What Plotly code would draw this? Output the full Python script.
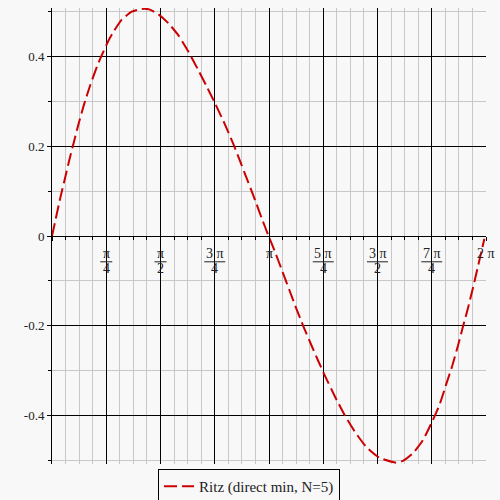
import math
import plotly.graph_objects as go

# ---- data ----
t_vals = [0.0, 0.048, 0.12, 0.19, 0.25, 0.318, 0.385, 0.46, 0.553, 0.65, 0.712, 0.817, 0.89,
          1.01, 1.155, 1.30, 1.406, 1.54, 1.685, 1.83, 1.974, 2.12, 2.24, 2.35, 2.50, 2.62,
          2.745, 2.84, 2.94, 3.035, 3.13, 3.20, 3.35, 3.44, 3.54, 3.636, 3.757, 3.853, 3.95,
          4.094, 4.24, 4.38, 4.55, 4.74, 4.985, 5.08, 5.225, 5.37, 5.514, 5.61, 5.71, 5.795,
          5.876, 5.948, 6.02, 6.094, 6.165, 6.237, 6.26]
u_vals = [0.0, 0.034, 0.085, 0.130, 0.169, 0.210, 0.250, 0.291, 0.336, 0.377, 0.400, 0.435, 0.455,
          0.482, 0.500, 0.506, 0.505, 0.494, 0.474, 0.447, 0.411, 0.369, 0.333, 0.299, 0.250, 0.207,
          0.158, 0.120, 0.080, 0.040, 0.002, -0.024, -0.085, -0.122, -0.163, -0.200, -0.244, -0.278, -0.311,
          -0.357, -0.400, -0.435, -0.470, -0.494, -0.505, -0.501, -0.484, -0.455, -0.410, -0.376, -0.329, -0.289,
          -0.245, -0.203, -0.162, -0.116, -0.069, -0.021, -0.006]

series_name = "Ritz (direct min, N=5)"

# x tick labels (numerator, denominator) at multiples of pi/4
x_tick_quarters = [1, 2, 3, 4, 5, 6, 7, 8]
x_tick_num = ["π", "π", "3 π", "π", "5 π", "3 π", "7 π", "2 π"]
x_tick_den = ["4", "2", "4", "", "4", "2", "4", ""]

y_tick_vals = [-0.4, -0.2, 0.0, 0.2, 0.4]
y_tick_text = ["-0.4", "-0.2", "0", "0.2", "0.4"]

BG = "#f8f8f8"
FONT = "Liberation Serif"
TXT = "#222222"

fig = go.Figure()
fig.add_trace(go.Scatter(
    x=t_vals, y=u_vals, mode="lines", name=series_name,
    line=dict(color="#cc0000", width=2, dash="13px,5px", shape="spline", smoothing=0.5),
    showlegend=True,
))

YR = [-0.508, 0.508]

# fraction tick labels
for q, num, den in zip(x_tick_quarters, x_tick_num, x_tick_den):
    xv = q * math.pi / 4
    fig.add_annotation(x=xv, y=-0.039, xref="x", yref="y", text=num, showarrow=False,
                       font=dict(family=FONT, size=14, color=TXT), xanchor="center", yanchor="middle")
    if den:
        fig.add_annotation(x=xv, y=-0.0735, xref="x", yref="y", text=den, showarrow=False,
                           font=dict(family=FONT, size=14, color=TXT), xanchor="center", yanchor="middle")
        hw = 0.087 if len(num) == 1 else 0.152
        fig.add_shape(type="line", x0=xv - hw, x1=xv + hw, y0=-0.0575, y1=-0.0575,
                      xref="x", yref="y", line=dict(color=TXT, width=1))

fig.update_layout(
    width=500, height=500,
    margin=dict(l=52, r=14, t=8, b=36, autoexpand=False),
    paper_bgcolor=BG, plot_bgcolor=BG,
    font=dict(family=FONT, size=13, color=TXT),
    showlegend=True,
    legend=dict(x=0.454, y=-0.011, xanchor="center", yanchor="top",
                bgcolor=BG, bordercolor="black", borderwidth=1,
                font=dict(family=FONT, size=15, color=TXT)),
    xaxis=dict(
        range=[0, 2 * math.pi], anchor="free", position=0.5, automargin=False,
        tickmode="linear", tick0=0, dtick=math.pi / 4,
        showticklabels=False, ticks="outside", ticklen=4, tickcolor="black",
        showgrid=True, gridcolor="black", gridwidth=1,
        showline=True, linecolor="black", linewidth=1, zeroline=False,
        minor=dict(tick0=0, dtick=math.pi / 16, showgrid=True, gridcolor="#c8c8c8",
                   gridwidth=1, ticks="outside", ticklen=3, tickcolor="black"),
    ),
    yaxis=dict(
        range=YR, anchor="x", automargin=False,
        tickmode="array", tickvals=y_tick_vals, ticktext=y_tick_text,
        ticks="outside", ticklen=4, tickcolor="black",
        showgrid=True, gridcolor="black", gridwidth=1,
        showline=True, linecolor="black", linewidth=1, zeroline=False,
        minor=dict(tick0=0, dtick=0.1, showgrid=True, gridcolor="#c8c8c8",
                   gridwidth=1, ticks="outside", ticklen=3, tickcolor="black"),
    ),
)

fig.write_html("out.html", config={"displayModeBar": False},
               post_script="document.body.style.margin='0';document.body.style.background='#f8f8f8';")
